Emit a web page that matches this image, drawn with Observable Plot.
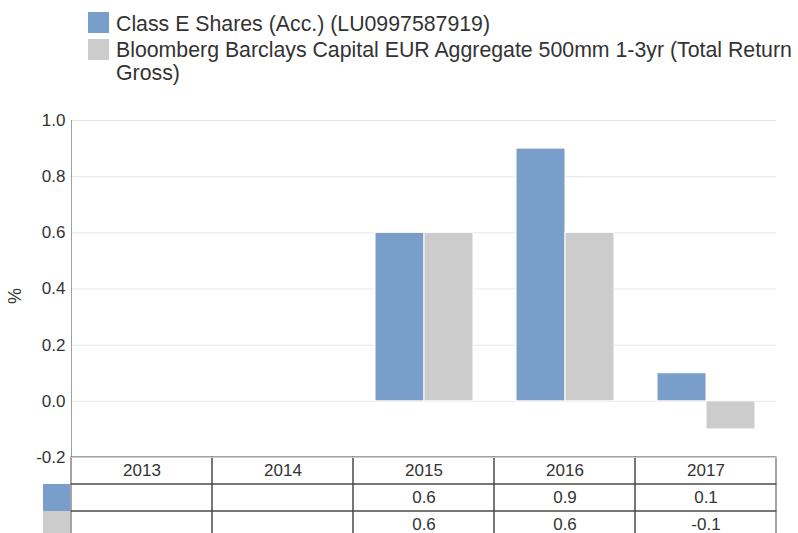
<!DOCTYPE html>
<html><head><meta charset="utf-8">
<script src="https://cdn.jsdelivr.net/npm/d3@7"></script>
<script src="https://cdn.jsdelivr.net/npm/@observablehq/plot@0.6"></script>
<style>
html,body{margin:0;padding:0;background:#fff;overflow:hidden;}
#root{position:relative;width:798px;height:533px;font-family:"Liberation Sans",Arial,sans-serif;color:#333;}
.sw{position:absolute;}
.lgtext{position:absolute;left:116px;width:690px;font-size:21.3px;line-height:23px;color:#333;}
#ylabel{position:absolute;left:15px;top:296px;font-size:18px;color:#333;transform:translate(-50%,-50%) rotate(-90deg);white-space:nowrap;}
</style></head><body><div id="root"></div>
<script>
const years = ["2013", "2014", "2015", "2016", "2017"];
const seriesNames = [
  "Class E Shares (Acc.) (LU0997587919)",
  "Bloomberg Barclays Capital EUR Aggregate 500mm 1-3yr (Total Return Gross)"
];
const classE = [null, null, 0.6, 0.9, 0.1];
const benchmark = [null, null, 0.6, 0.6, -0.1];
const colors = ["#7a9eca", "#cccccc"];
const yTicks = [-0.2, 0, 0.2, 0.4, 0.6, 0.8, 1.0];
const yLabel = "%";

const seriesValues = [classE, benchmark];
const allRows = years.flatMap((yr, i) => seriesNames.map((s, k) => ({year: yr, series: s, value: seriesValues[k][i]})));
const valued = allRows.filter(d => d.value != null);
const rowKeys = ["header", ...seriesNames];
const cells = rowKeys.flatMap(r => years.map(y => ({row: r, year: y})));

const root = document.getElementById("root");
const font = '"Liberation Sans", Arial, sans-serif';

// Legend (HTML)
seriesNames.forEach((s, i) => {
  const sw = document.createElement("div");
  sw.className = "sw";
  Object.assign(sw.style, {left: "88px", top: (12.3 + i * 27) + "px", width: "21px", height: "21px", background: colors[i]});
  root.appendChild(sw);
  const t = document.createElement("div");
  t.className = "lgtext";
  t.style.top = (12.9 + i * 25.6) + "px";
  t.textContent = s;
  root.appendChild(t);
});

// Chart
const chart = Plot.plot({
  width: 798, height: 458,
  marginLeft: 71, marginRight: 22, marginTop: 120, marginBottom: 1,
  style: {fontFamily: font, fontSize: "17px", color: "#333", background: "transparent", overflow: "visible"},
  facet: {data: allRows, x: "year"},
  fx: {domain: years, padding: 0, axis: null, label: null},
  x: {domain: seriesNames, paddingInner: 0, paddingOuter: 0.42, axis: null},
  y: {domain: [-0.2, 1.0]},
  color: {domain: seriesNames, range: colors},
  marks: [
    Plot.gridY(yTicks, {stroke: "#e6e6e6", strokeOpacity: 1}),
    Plot.barY(allRows, {x: "series", y: "value", fill: "series", stroke: "#fff", strokeWidth: 1}),
    Plot.axisY(yTicks, {tickSize: 0, tickPadding: 6, tickFormat: d => d.toFixed(1), label: null, fill: "#333"}),
    Plot.frame({anchor: "left", facet: "super", stroke: "#a0a0a0"})
  ]
});
chart.style.position = "absolute";
chart.style.left = "0px";
chart.style.top = "0px";
root.appendChild(chart);

// Y label
const yl = document.createElement("div");
yl.id = "ylabel";
yl.textContent = yLabel;
root.appendChild(yl);

// Data table
const table = Plot.plot({
  width: 798, height: 82,
  marginLeft: 71, marginRight: 22, marginTop: 1, marginBottom: 0,
  style: {fontFamily: font, fontSize: "17px", color: "#333", background: "transparent", overflow: "visible"},
  x: {domain: years, padding: 0, axis: null},
  y: {domain: rowKeys, padding: 0, axis: null},
  marks: [
    Plot.cell(cells, {x: "year", y: "row", fill: "none", stroke: "#4a4a4a", inset: 0}),
    Plot.frame({anchor: "top", stroke: "#cccccc"}),
    Plot.text(years, {x: d => d, y: () => "header", text: d => d, fill: "#333"}),
    Plot.text(valued, {x: "year", y: "series", text: d => d.value.toFixed(1), fill: "#333"})
  ]
});
table.style.position = "absolute";
table.style.left = "0px";
table.style.top = "456px";
root.appendChild(table);

// Table row swatches
seriesNames.forEach((s, i) => {
  const sw = document.createElement("div");
  sw.className = "sw";
  Object.assign(sw.style, {left: "43px", top: (484 + i * 27) + "px", width: "27px", height: "27px", background: colors[i]});
  root.appendChild(sw);
});
</script></body></html>
